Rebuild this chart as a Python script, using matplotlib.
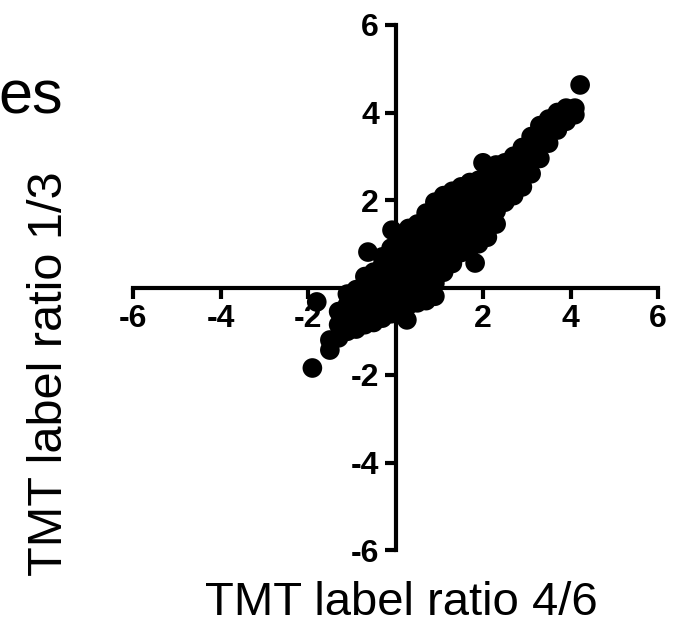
import matplotlib
matplotlib.use('Agg')
import matplotlib.pyplot as plt

plt.rcParams['font.family'] = ['Liberation Sans', 'DejaVu Sans']

# TMT ratio 4/6 (x) vs 1/3 (y); dense band read column by column
cloud_cols = [-1.5, -1.3, -1.1, -0.9, -0.7, -0.5, -0.3, -0.1, 0.1, 0.3, 0.5, 0.7, 0.9,
              1.1, 1.3, 1.5, 1.7, 1.9, 2.1, 2.3, 2.5, 2.7, 2.9, 3.1, 3.3, 3.5, 3.7, 3.9, 4.1]
cloud_rows = [
    [-1.43, -1.2],
    [-1.15, -0.85, -0.55],
    [-1.0, -0.7, -0.4, -0.15],
    [-0.95, -0.65, -0.35, -0.05],
    [-0.85, -0.55, -0.25, 0.05, 0.25],
    [-0.8, -0.5, -0.2, 0.1, 0.35],
    [-0.7, -0.4, -0.1, 0.2, 0.5, 0.7],
    [-0.6, -0.3, 0.0, 0.3, 0.6, 0.9],
    [-0.5, -0.2, 0.1, 0.4, 0.7, 1.0, 1.2],
    [-0.4, -0.1, 0.2, 0.5, 0.8, 1.1, 1.35],
    [-0.35, -0.05, 0.25, 0.55, 0.85, 1.15, 1.45],
    [-0.3, 0.0, 0.3, 0.6, 0.9, 1.2, 1.5, 1.7],
    [-0.2, 0.1, 0.4, 0.7, 1.0, 1.3, 1.6, 1.95],
    [0.35, 0.65, 0.95, 1.25, 1.55, 1.85, 2.1],
    [0.55, 0.85, 1.15, 1.45, 1.75, 2.05, 2.2],
    [0.8, 1.1, 1.4, 1.7, 2.0, 2.3],
    [0.9, 1.2, 1.5, 1.8, 2.1, 2.4],
    [1.0, 1.3, 1.6, 1.9, 2.2, 2.45],
    [1.15, 1.45, 1.75, 2.05, 2.35, 2.6],
    [1.45, 1.75, 2.05, 2.35, 2.65, 2.8],
    [1.95, 2.25, 2.55, 2.85],
    [2.1, 2.4, 2.7, 3.0],
    [2.3, 2.6, 2.9, 3.2],
    [2.6, 2.9, 3.2, 3.45],
    [2.95, 3.25, 3.55, 3.7],
    [3.3, 3.6, 3.85],
    [3.6, 3.85, 4.0],
    [3.8, 4.0, 4.1],
    [3.95, 4.1],
]

# isolated points
outlier_x = [4.22, 2.0, 1.82, 0.26, -0.08, -0.63, -1.8, -1.9]
outlier_y = [4.63, 2.85, 0.56, -0.74, 1.31, 0.81, -0.33, -1.84]

tick_vals = [-6, -4, -2, 2, 4, 6]

xs, ys = [], []
for c, row in zip(cloud_cols, cloud_rows):
    for v in row:
        xs.append(c)
        ys.append(v)
xs += outlier_x
ys += outlier_y

fig = plt.figure(figsize=(6.82, 6.22), dpi=100)
ax = fig.add_axes([133 / 682, 72 / 622, 525 / 682, 525 / 622])

ax.scatter(xs, ys, s=200, c='black', edgecolors='none', zorder=3)

ax.set_xlim(-6, 6)
ax.set_ylim(-6, 6)
for side in ['top', 'right']:
    ax.spines[side].set_visible(False)
ax.spines['left'].set_position(('data', 0))
ax.spines['bottom'].set_position(('data', 0))
for side in ['left', 'bottom']:
    ax.spines[side].set_linewidth(3)

ax.set_xticks(tick_vals)
ax.set_yticks(tick_vals)
ax.set_xticklabels([str(v) for v in tick_vals])
ax.set_yticklabels([str(v) for v in tick_vals])
ax.tick_params(direction='out', length=8, width=3, pad=4, labelsize=23)
for lab in ax.get_xticklabels() + ax.get_yticklabels():
    lab.set_fontweight('bold')

fig.text(401 / 682, 1 - 615 / 622, 'TMT label ratio 4/6', fontsize=34,
         ha='center', va='baseline')
fig.text(49 / 682, 1 - 374 / 622, 'TMT label ratio 1/3', fontsize=35,
         ha='center', va='center', rotation=90)
fig.text(-2 / 682, 1 - 113 / 622, 'es', fontsize=44, ha='left', va='baseline')

fig.savefig('out.png', dpi=100)
